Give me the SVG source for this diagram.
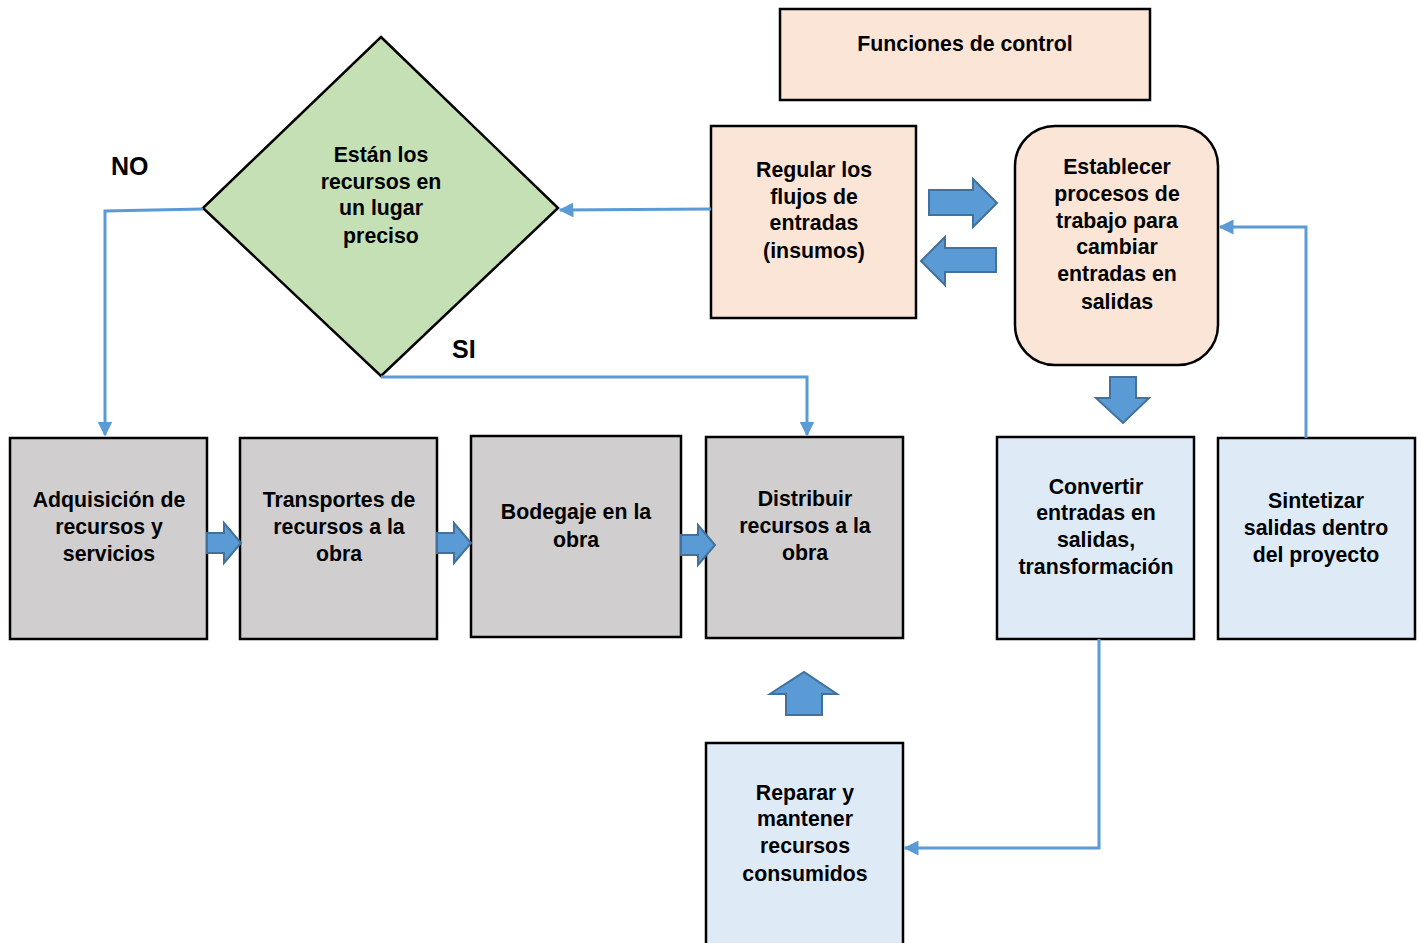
<svg xmlns="http://www.w3.org/2000/svg" width="1419" height="943" viewBox="0 0 1419 943">
  <defs>
    <style>
      .box { stroke: #000; stroke-width: 2.5; }
      .peach { fill: #FBE5D6; }
      .green { fill: #C5E0B4; }
      .gray { fill: #D0CECE; }
      .blue { fill: #DEEBF7; }
      .lbl { font-family: "Liberation Sans", Arial, sans-serif; font-weight: bold; font-size: 21.3px; text-anchor: middle; fill: #000; }
      .tag { font-family: "Liberation Sans", Arial, sans-serif; font-weight: bold; font-size: 25px; fill: #000; }
      .wire { fill: none; stroke: #5B9BD5; stroke-width: 3; }
      .blk { fill: #5B9BD5; stroke: #41719C; stroke-width: 2; stroke-linejoin: miter; }
    </style>
    <marker id="ah" viewBox="0 0 10 10" refX="9" refY="5" markerWidth="5" markerHeight="5" orient="auto" markerUnits="strokeWidth">
      <path d="M0,0 L10,5 L0,10 z" fill="#5B9BD5"/>
    </marker>
  </defs>
  <rect width="1419" height="943" fill="#fff"/>

  <g id="funciones">
    <rect class="box peach" x="780" y="9" width="370" height="91"/>
    <text class="lbl" x="965" y="51">Funciones de control</text>
  </g>

  <g id="regular">
    <rect class="box peach" x="711" y="126" width="205" height="192"/>
    <text class="lbl" x="814" y="177">Regular los</text>
    <text class="lbl" x="814" y="204">flujos de</text>
    <text class="lbl" x="814" y="230">entradas</text>
    <text class="lbl" x="814" y="258">(insumos)</text>
  </g>

  <g id="establecer">
    <rect class="box peach" x="1015" y="126" width="203" height="239" rx="40" ry="40"/>
    <text class="lbl" x="1117" y="174">Establecer</text>
    <text class="lbl" x="1117" y="201">procesos de</text>
    <text class="lbl" x="1117" y="228">trabajo para</text>
    <text class="lbl" x="1117" y="254">cambiar</text>
    <text class="lbl" x="1117" y="281">entradas en</text>
    <text class="lbl" x="1117" y="309">salidas</text>
  </g>

  <g id="decision">
    <path class="box green" d="M381,37 L558,208 L381,376 L203,208 z"/>
    <text class="lbl" x="381" y="162">Están los</text>
    <text class="lbl" x="381" y="189">recursos en</text>
    <text class="lbl" x="381" y="215">un lugar</text>
    <text class="lbl" x="381" y="243">preciso</text>
  </g>

  <g id="tag-no">
    <text class="tag" x="111" y="175">NO</text>
  </g>
  <g id="tag-si">
    <text class="tag" x="452" y="358">SI</text>
  </g>

  <g id="adquisicion">
    <rect class="box gray" x="10" y="438" width="197" height="201"/>
    <text class="lbl" x="109" y="507">Adquisición de</text>
    <text class="lbl" x="109" y="534">recursos y</text>
    <text class="lbl" x="109" y="561">servicios</text>
  </g>

  <g id="transportes">
    <rect class="box gray" x="240" y="438" width="197" height="201"/>
    <text class="lbl" x="339" y="507">Transportes de</text>
    <text class="lbl" x="339" y="534">recursos a la</text>
    <text class="lbl" x="339" y="561">obra</text>
  </g>

  <g id="bodegaje">
    <rect class="box gray" x="471" y="436" width="210" height="201"/>
    <text class="lbl" x="576" y="519">Bodegaje en la</text>
    <text class="lbl" x="576" y="547">obra</text>
  </g>

  <g id="distribuir">
    <rect class="box gray" x="706" y="437" width="197" height="201"/>
    <text class="lbl" x="805" y="506">Distribuir</text>
    <text class="lbl" x="805" y="533">recursos a la</text>
    <text class="lbl" x="805" y="560">obra</text>
  </g>

  <g id="convertir">
    <rect class="box blue" x="997" y="437" width="197" height="202"/>
    <text class="lbl" x="1096" y="494">Convertir</text>
    <text class="lbl" x="1096" y="520">entradas en</text>
    <text class="lbl" x="1096" y="547">salidas,</text>
    <text class="lbl" x="1096" y="574">transformación</text>
  </g>

  <g id="sintetizar">
    <rect class="box blue" x="1218" y="438" width="197" height="201"/>
    <text class="lbl" x="1316" y="508">Sintetizar</text>
    <text class="lbl" x="1316" y="535">salidas dentro</text>
    <text class="lbl" x="1316" y="562">del proyecto</text>
  </g>

  <g id="reparar">
    <rect class="box blue" x="706" y="743" width="197" height="210"/>
    <text class="lbl" x="805" y="800">Reparar y</text>
    <text class="lbl" x="805" y="826">mantener</text>
    <text class="lbl" x="805" y="853">recursos</text>
    <text class="lbl" x="805" y="881">consumidos</text>
  </g>

  <!-- connectors: thin flow lines and block arrows, drawn over the nodes -->
  <g id="connectors">
    <path class="wire" d="M711,209 L560,210" marker-end="url(#ah)"/>
    <path class="wire" d="M203,209 L105,211 L105,435" marker-end="url(#ah)"/>
    <path class="wire" d="M381,377 L807,377 L807,435" marker-end="url(#ah)"/>
    <path class="wire" d="M1099,639 L1099,848 L905,848" marker-end="url(#ah)"/>
    <path class="wire" d="M1306,438 L1306,227 L1220,227" marker-end="url(#ah)"/>
    <path class="blk" d="M929,190 L973,190 L973,179 L997,203 L973,227 L973,215 L929,215 z"/>
    <path class="blk" d="M996,248 L945,248 L945,237 L921,261 L945,285 L945,272 L996,272 z"/>
    <path class="blk" d="M1110,377 L1136,377 L1136,398 L1149,398 L1123,423 L1096,398 L1110,398 z"/>
    <path class="blk" d="M786,715 L822,715 L822,694 L837,694 L804,672 L770,694 L786,694 z"/>
    <path class="blk" d="M207,533 L224,533 L224,523 L241,543 L224,563 L224,553 L207,553 z"/>
    <path class="blk" d="M437,533 L454,533 L454,523 L471,543 L454,563 L454,553 L437,553 z"/>
    <path class="blk" d="M681,535 L698,535 L698,525 L715,545 L698,565 L698,555 L681,555 z"/>
  </g>
</svg>
